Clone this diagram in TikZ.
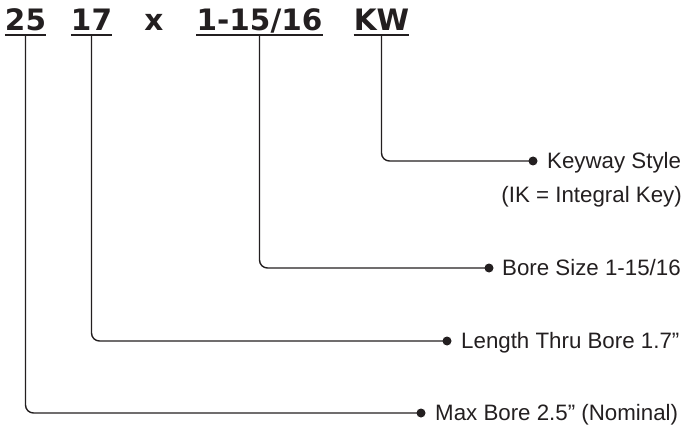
\documentclass[tikz,border=0pt]{standalone}
\usepackage{fontspec}
\setmainfont{Liberation Sans}
\newfontfamily\codefont{DejaVu Sans}
\definecolor{ink}{HTML}{231F20}
\begin{document}
\begin{tikzpicture}[x=1pt,y=-1pt,
  code/.style={font=\codefont\bfseries\fontsize{29.5}{34}\selectfont, text=ink, inner sep=0pt, anchor=base},
  uline/.style={draw=ink, line width=2pt},
  conn/.style={draw=ink, line width=1.4pt, rounded corners=8pt},
  dotmark/.style={circle, fill=ink, inner sep=0pt, minimum size=9pt},
  labfont/.style={font=\fontsize{22.3}{27}\selectfont, text=ink, inner sep=0pt},
  lab/.style={labfont, anchor=base west}
]
\useasboundingbox (0,0) rectangle (683,425);
% code text
\node[code] (n25) at (25.5,30.5) {25};
\node[code] (n17) at (91.5,30.5) {17};
\node[code] (nx) at (154,30.5) {x};
\node[code] (nbore) at (259.5,30.5) {1-15/16};
\node[code] (nkw) at (381.5,30.5) {KW};
% underlines
\foreach \n in {n25,n17,nbore,nkw}{
  \draw[uline] ([yshift=-5pt]\n.base west) -- ([yshift=-5pt]\n.base east);
}
\coordinate (t25) at ([yshift=-5pt]n25.base);
\coordinate (t17) at ([yshift=-5pt]n17.base);
\coordinate (tbore) at ([yshift=-5pt]nbore.base);
\coordinate (tkw) at ([yshift=-5pt]nkw.base);
% dots
\node[dotmark] (dkw) at (533,161) {};
\node[dotmark] (dbore) at (489,268) {};
\node[dotmark] (dlen) at (447,341) {};
\node[dotmark] (dmax) at (421,413) {};
% labels
\node[lab] (lkw) at ([xshift=14pt,yshift=-7pt]dkw.center) {Keyway Style};
\node[labfont, anchor=base east] (lik) at (682,203) {(IK = Integral Key)};
\node[lab] (lbore) at ([xshift=13pt,yshift=-7pt]dbore.center) {Bore Size 1-15/16};
\node[lab] (llen) at ([xshift=14pt,yshift=-7pt]dlen.center) {Length Thru Bore 1.7”};
\node[lab] (lmax) at ([xshift=14pt,yshift=-7pt]dmax.center) {Max Bore 2.5” (Nominal)};
% connectors
\draw[conn] (tkw) |- (dkw.center);
\draw[conn] (tbore) |- (dbore.center);
\draw[conn] (t17) |- (dlen.center);
\draw[conn] (t25) |- (dmax.center);
\end{tikzpicture}
\end{document}
